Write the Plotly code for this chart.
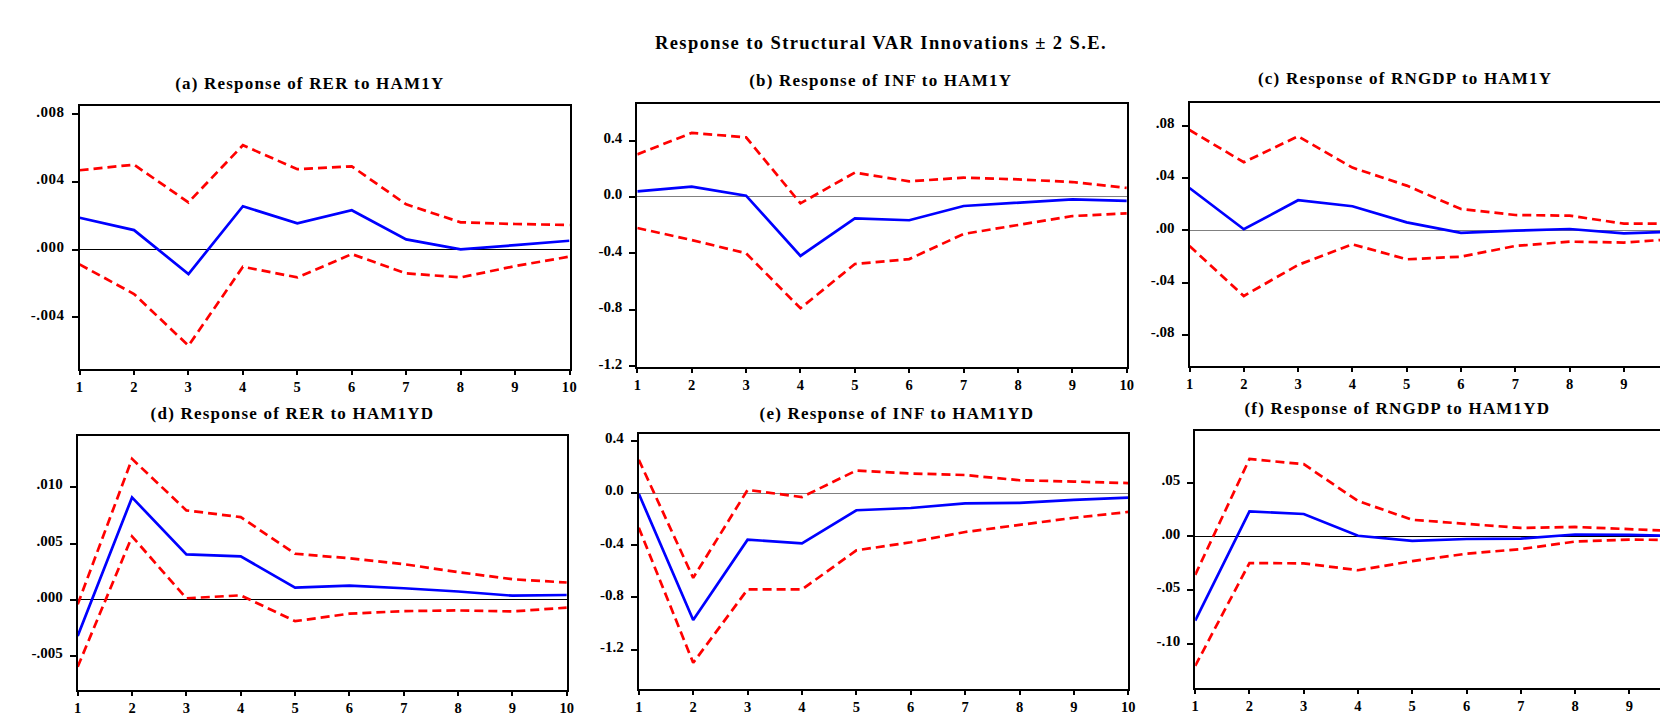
import plotly.graph_objects as go

# ---------------- data ----------------
horizon = [1, 2, 3, 4, 5, 6, 7, 8, 9, 10]

main_title = "Response to Structural VAR Innovations \u00b1 2 S.E."
panel_titles = [
    "(a) Response of RER to HAM1Y",
    "(b) Response of INF to HAM1Y",
    "(c) Response of RNGDP to HAM1Y",
    "(d) Response of RER to HAM1YD",
    "(e) Response of INF to HAM1YD",
    "(f) Response of RNGDP to HAM1YD",
]

# (a) RER to HAM1Y
rer_ham1y_resp = [0.00189, 0.00116, -0.00144, 0.00257, 0.00156, 0.00233, 0.00061, 0.00002, 0.00027, 0.00053]
rer_ham1y_upper = [0.00470, 0.00503, 0.00280, 0.00618, 0.00476, 0.00493, 0.00268, 0.00162, 0.00152, 0.00146]
rer_ham1y_lower = [-0.00087, -0.00262, -0.00568, -0.00101, -0.00164, -0.00026, -0.00140, -0.00164, -0.00097, -0.00041]

# (b) INF to HAM1Y
inf_ham1y_resp = [0.040, 0.073, 0.009, -0.418, -0.151, -0.165, -0.064, -0.040, -0.017, -0.028]
inf_ham1y_upper = [0.302, 0.454, 0.423, -0.045, 0.173, 0.111, 0.137, 0.125, 0.106, 0.064]
inf_ham1y_lower = [-0.220, -0.305, -0.399, -0.789, -0.475, -0.440, -0.262, -0.198, -0.135, -0.116]

# (c) RNGDP to HAM1Y
rngdp_ham1y_resp = [0.0324, 0.0008, 0.0230, 0.0184, 0.0061, -0.0020, -0.0003, 0.0010, -0.0023, -0.0010]
rngdp_ham1y_upper = [0.0768, 0.0521, 0.0720, 0.0480, 0.0342, 0.0163, 0.0117, 0.0112, 0.0051, 0.0051]
rngdp_ham1y_lower = [-0.0120, -0.0503, -0.0265, -0.0107, -0.0222, -0.0202, -0.0120, -0.0087, -0.0094, -0.0065]

# (d) RER to HAM1YD
rer_ham1yd_resp = [-0.00320, 0.00909, 0.00403, 0.00386, 0.00109, 0.00126, 0.00103, 0.00074, 0.00037, 0.00043]
rer_ham1yd_upper = [-0.00040, 0.01251, 0.00794, 0.00734, 0.00409, 0.00369, 0.00317, 0.00246, 0.00183, 0.00154]
rer_ham1yd_lower = [-0.00594, 0.00563, 0.00014, 0.00040, -0.00189, -0.00123, -0.00100, -0.00094, -0.00103, -0.00069]

# (e) INF to HAM1YD
inf_ham1yd_resp = [-0.005, -0.973, -0.357, -0.385, -0.131, -0.114, -0.079, -0.074, -0.052, -0.035]
inf_ham1yd_upper = [0.256, -0.650, 0.025, -0.030, 0.174, 0.151, 0.139, 0.099, 0.089, 0.077]
inf_ham1yd_lower = [-0.265, -1.302, -0.739, -0.739, -0.439, -0.377, -0.298, -0.241, -0.189, -0.144]

# (f) RNGDP to HAM1YD
rngdp_ham1yd_resp = [-0.0785, 0.0233, 0.0209, 0.0006, -0.0042, -0.0024, -0.0021, 0.0018, 0.0015, 0.0003]
rngdp_ham1yd_upper = [-0.0358, 0.0721, 0.0673, 0.0330, 0.0155, 0.0118, 0.0079, 0.0088, 0.0070, 0.0048]
rngdp_ham1yd_lower = [-0.1206, -0.0248, -0.0251, -0.0315, -0.0230, -0.0161, -0.0118, -0.0048, -0.0030, -0.0033]

# tick values / labels
x_tickvals = horizon
x_ticktext = ["1", "2", "3", "4", "5", "6", "7", "8", "9", "10"]
a_tickvals = [-0.004, 0.0, 0.004, 0.008]
a_ticktext = ["-.004", ".000", ".004", ".008"]
b_tickvals = [-1.2, -0.8, -0.4, 0.0, 0.4]
b_ticktext = ["-1.2", "-0.8", "-0.4", "0.0", "0.4"]
c_tickvals = [-0.08, -0.04, 0.0, 0.04, 0.08]
c_ticktext = ["-.08", "-.04", ".00", ".04", ".08"]
d_tickvals = [-0.005, 0.0, 0.005, 0.010]
d_ticktext = ["-.005", ".000", ".005", ".010"]
e_tickvals = [-1.2, -0.8, -0.4, 0.0, 0.4]
e_ticktext = ["-1.2", "-0.8", "-0.4", "0.0", "0.4"]
f_tickvals = [-0.10, -0.05, 0.0, 0.05]
f_ticktext = ["-.10", "-.05", ".00", ".05"]

# ---------------- layout helpers ----------------
W, H = 1660, 719
FONT = "Liberation Serif, Times New Roman, serif"

def fx(px):
    return px / W

def fy(py):
    return 1 - py / H

panels = [
    dict(resp=rer_ham1y_resp, up=rer_ham1y_upper, lo=rer_ham1y_lower,
         box=(79.6, 569.5, 106.0, 368.7), xr=[1, 10], yr=[-0.00704, 0.0085],
         tv=a_tickvals, tt=a_ticktext, zc="#000000", rf=True, tpos=(310, 83)),
    dict(resp=inf_ham1y_resp, up=inf_ham1y_upper, lo=inf_ham1y_lower,
         box=(637.3, 1126.8, 104.3, 366.7), xr=[1, 10], yr=[-1.203, 0.657],
         tv=b_tickvals, tt=b_ticktext, zc="#808080", rf=True, tpos=(880, 81)),
    dict(resp=rngdp_ham1y_resp, up=rngdp_ham1y_upper, lo=rngdp_ham1y_lower,
         box=(1189.5, 1660.0, 102.7, 366.0), xr=[1, 9.665], yr=[-0.1039, 0.0977],
         tv=c_tickvals, tt=c_ticktext, zc="#808080", rf=False, tpos=(1405, 79)),
    dict(resp=rer_ham1yd_resp, up=rer_ham1yd_upper, lo=rer_ham1yd_lower,
         box=(77.7, 566.8, 436.0, 690.0), xr=[1, 10], yr=[-0.0080, 0.01454],
         tv=d_tickvals, tt=d_ticktext, zc="#000000", rf=True, tpos=(292, 413)),
    dict(resp=inf_ham1yd_resp, up=inf_ham1yd_upper, lo=inf_ham1yd_lower,
         box=(638.8, 1128.3, 434.0, 689.0), xr=[1, 10], yr=[-1.503, 0.454],
         tv=e_tickvals, tt=e_ticktext, zc="#808080", rf=True, tpos=(897, 413)),
    dict(resp=rngdp_ham1yd_resp, up=rngdp_ham1yd_upper, lo=rngdp_ham1yd_lower,
         box=(1195.2, 1660.0, 431.0, 688.0), xr=[1, 9.566], yr=[-0.1412, 0.0982],
         tv=f_tickvals, tt=f_ticktext, zc="#000000", rf=False, tpos=(1397, 408)),
]

fig = go.Figure()
layout = dict(
    width=W, height=H, autosize=False,
    margin=dict(l=0, r=0, t=0, b=0, pad=0, autoexpand=False),
    paper_bgcolor="white", plot_bgcolor="white",
    showlegend=False,
    title=dict(text="<b>" + main_title + "</b>", x=fx(881), y=fy(43),
               xanchor="center", yanchor="middle", xref="paper", yref="container",
               font=dict(family=FONT, size=18.5, color="black")),
    annotations=[],
)

x_tick_font = dict(family=FONT, size=14.5, color="black", weight="bold")
y_tick_font = dict(family=FONT, size=15, color="black", weight="bold")

for i, p in enumerate(panels):
    n = "" if i == 0 else str(i + 1)
    xa, ya = "x" + n, "y" + n
    x0, x1, y0, y1 = p["box"]
    for vals, color, dash in ((p["up"], "#FF0000", "9px,5px"),
                              (p["lo"], "#FF0000", "9px,5px"),
                              (p["resp"], "#0000FF", "solid")):
        fig.add_trace(go.Scatter(x=horizon, y=vals, mode="lines",
                                 line=dict(color=color, width=2.7, dash=dash),
                                 xaxis=xa, yaxis=ya, hoverinfo="skip"))
    layout["xaxis" + n] = dict(
        domain=[fx(x0), fx(x1)], range=p["xr"], anchor=ya, automargin=False,
        tickmode="array", tickvals=x_tickvals, ticktext=x_ticktext,
        ticks="outside", ticklen=4, tickwidth=1.5, tickcolor="black",
        showline=True, linecolor="black", linewidth=2, mirror=True,
        showgrid=False, zeroline=False, tickfont=x_tick_font,
        ticklabelstandoff=0,
    )
    layout["yaxis" + n] = dict(
        domain=[fy(y1), fy(y0)], range=p["yr"], anchor=xa, automargin=False,
        tickmode="array", tickvals=p["tv"], ticktext=p["tt"],
        ticks="outside", ticklen=6, tickwidth=1.5, tickcolor="black",
        showline=True, linecolor="black", linewidth=2,
        mirror=True if p["rf"] else False,
        showgrid=False, zeroline=True, zerolinecolor=p["zc"], zerolinewidth=1.2,
        tickfont=y_tick_font, ticklabelshift=-3, ticklabelstandoff=4,
    )
    tx, ty = p["tpos"]
    layout["annotations"].append(dict(
        text="<b>" + panel_titles[i] + "</b>", x=fx(tx), y=fy(ty),
        xref="paper", yref="paper", xanchor="center", yanchor="middle",
        showarrow=False, font=dict(family=FONT, size=17, color="black"),
    ))

fig.update_layout(**layout)

post = """
document.body.style.margin='0';
document.body.style.overflow='hidden';
var gd = document.getElementById('{plot_id}');
function sp(){
  gd.querySelectorAll('.gtitle').forEach(function(t){t.setAttribute('letter-spacing','1.4px');});
  gd.querySelectorAll('.annotation-text').forEach(function(t){t.setAttribute('letter-spacing','1.2px');});
  gd.querySelectorAll('.xtick text, .ytick text').forEach(function(t){t.setAttribute('letter-spacing','0.5px');});
}
sp();
gd.on('plotly_afterplot', sp);
"""

fig.write_html("out.html", post_script=post,
               config={"displayModeBar": False, "responsive": False})
